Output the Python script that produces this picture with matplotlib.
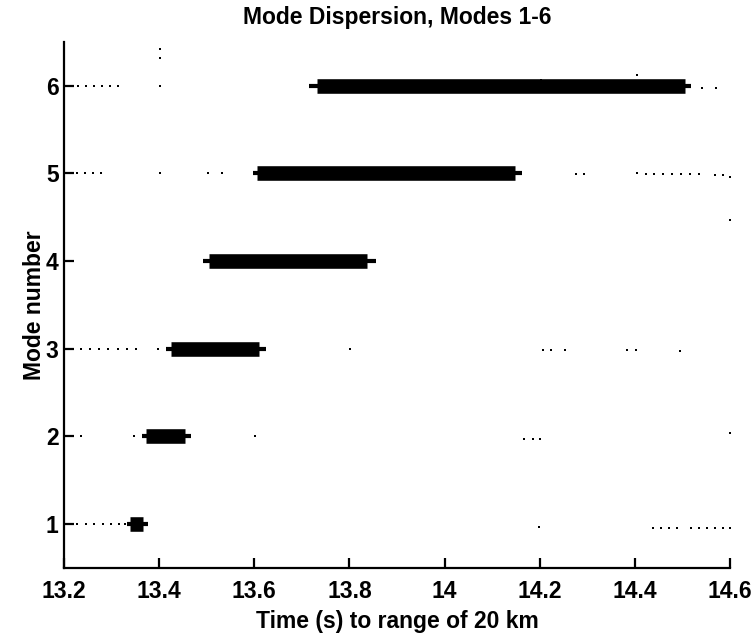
import matplotlib
matplotlib.use("Agg")
import matplotlib.pyplot as plt

plt.rcParams['font.family'] = ['Liberation Sans', 'DejaVu Sans']
plt.rcParams['font.weight'] = 'bold'

# Mode numbers and arrival-time spans (s) for each mode
modes = [1, 2, 3, 4, 5, 6]
core_start = [13.339, 13.373, 13.425, 13.504, 13.605, 13.732]
core_end = [13.365, 13.455, 13.609, 13.836, 14.148, 14.505]
tail_start = [13.332, 13.364, 13.415, 13.493, 13.597, 13.714]
tail_end = [13.377, 13.467, 13.625, 13.855, 14.163, 14.518]

# Weak scattered arrivals (time, mode level)
dot_t = [13.228, 13.246, 13.263, 13.281, 13.298, 13.316, 13.328,
         14.198, 14.438, 14.455, 14.472, 14.489, 14.518, 14.535,
         14.552, 14.569, 14.585, 14.600,
         13.236, 13.348, 13.602, 14.168, 14.185, 14.200, 14.600,
         13.236, 13.255, 13.274, 13.293, 13.314, 13.333, 13.352,
         13.398, 13.802, 14.206, 14.223, 14.253, 14.383, 14.402, 14.495,
         14.600,
         13.227, 13.244, 13.261, 13.278, 13.402, 13.503, 13.533,
         14.277, 14.293, 14.404, 14.423, 14.440, 14.459, 14.478,
         14.497, 14.516, 14.535, 14.569, 14.586, 14.600,
         13.229, 13.246, 13.263, 13.280, 13.297, 13.314, 13.402,
         14.541, 14.571, 14.203, 14.404, 13.402, 13.402]
dot_m = [1, 1, 1, 1, 1, 1, 1,
         0.97, 0.96, 0.96, 0.96, 0.96, 0.96, 0.96,
         0.96, 0.96, 0.96, 0.96,
         2, 2, 2, 1.97, 1.97, 1.97, 2.04,
         3, 3, 3, 3, 3, 3, 3,
         3, 3, 2.99, 2.99, 2.99, 2.99, 2.99, 2.98,
         4.47,
         5, 5, 5, 5, 5.0, 5, 5,
         4.99, 4.99, 5.01, 4.99, 4.99, 4.99, 4.99,
         4.99, 4.99, 4.99, 4.98, 4.98, 4.96,
         6, 6, 6, 6, 6, 6, 6,
         5.98, 5.98, 6.07, 6.12, 6.32, 6.42]

fig = plt.figure(figsize=(7.54, 6.36), dpi=100)
ax = fig.add_axes([0.085, 0.107, 0.883, 0.827])

ax.plot(dot_t, dot_m, 's', color='black', markersize=2.0, markeredgewidth=0)

for m, a, b in zip(modes, tail_start, tail_end):
    ax.plot([a, b], [m, m], color='black', linewidth=3, solid_capstyle='butt')
for m, a, b in zip(modes, core_start, core_end):
    ax.plot([a, b], [m, m], color='black', linewidth=10.5, solid_capstyle='butt')

ax.set_xlim(13.2, 14.6)
ax.set_ylim(0.5, 6.5)
ax.set_xticks([13.2, 13.4, 13.6, 13.8, 14.0, 14.2, 14.4, 14.6])
ax.set_xticklabels(['13.2', '13.4', '13.6', '13.8', '14', '14.2', '14.4', '14.6'])
ax.set_yticks(modes)

ax.spines['top'].set_visible(False)
ax.spines['right'].set_visible(False)
ax.spines['left'].set_linewidth(1.6)
ax.spines['bottom'].set_linewidth(1.6)
ax.tick_params(direction='in', length=7, width=1.6, labelsize=16.5)
ax.tick_params(axis='x', pad=9)
ax.tick_params(axis='y', pad=4)

ax.set_title('Mode Dispersion, Modes 1-6', fontsize=16.5, fontweight='bold', pad=13)
ax.set_xlabel('Time (s) to range of 20 km', fontsize=16.5, fontweight='bold', labelpad=5)
ax.set_ylabel('Mode number', fontsize=16.5, fontweight='bold', labelpad=0)

fig.savefig('out.png', dpi=100)
